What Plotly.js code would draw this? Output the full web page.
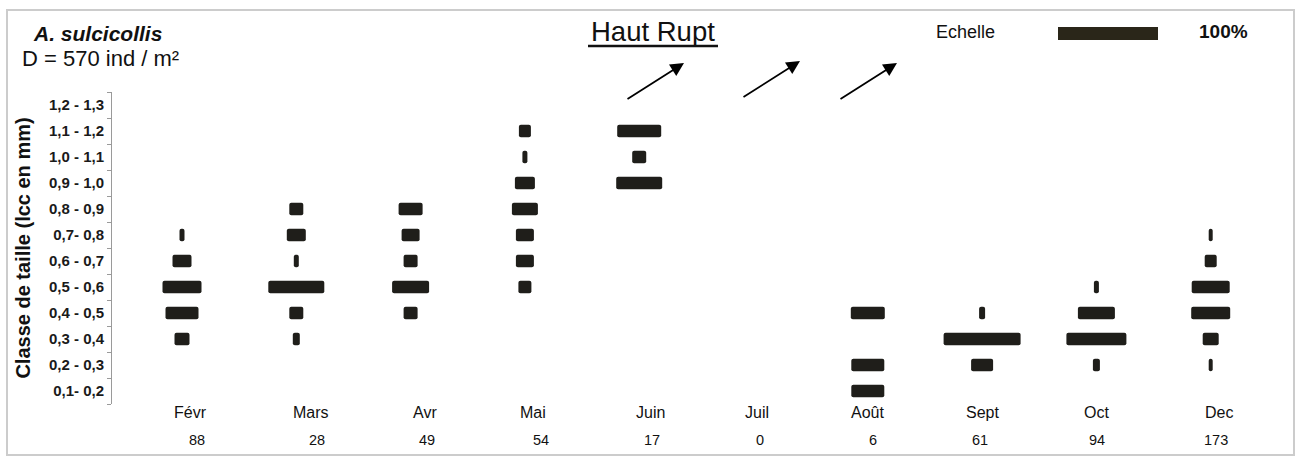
<!DOCTYPE html>
<html>
<head>
<meta charset="utf-8">
<script src="https://cdn.plot.ly/plotly-3.0.1.min.js"></script>
<style>
  html, body { margin:0; padding:0; background:#fff; }
  #graph { width:1299px; height:458px; }
</style>
</head>
<body>
<div id="graph"></div>
<script>
//***** data
var classes = ['0,1- 0,2','0,2 - 0,3','0,3 - 0,4','0,4 - 0,5','0,5 - 0,6','0,6 - 0,7',
               '0,7- 0,8','0,8 - 0,9','0,9 - 1,0','1,0 - 1,1','1,1 - 1,2','1,2 - 1,3'];
var months = ['Févr','Mars','Avr','Mai','Juin','Juil','Août','Sept','Oct','Dec'];
var counts = [88,28,49,54,17,0,6,61,94,173];

// % of the monthly sample in each size class (smallest class first)
var fevr = [0,0,15,33,39,19,5,0,0,0,0,0];
var mars = [0,0,7,14,56,5,19,14,0,0,0,0];
var avr  = [0,0,0,14,37,14,18,24,0,0,0,0];
var mai  = [0,0,0,0,13,18,18,26,20,5,12,0];
var juin = [0,0,0,0,0,0,0,0,46,14,44,0];
var juil = [0,0,0,0,0,0,0,0,0,0,0,0];
var aout = [33,33,0,34,0,0,0,0,0,0,0,0];
var sept = [0,22,77,6,0,0,0,0,0,0,0,0];
var oct  = [0,7,60,37,5,0,0,0,0,0,0,0];
var dec  = [0,4,16,39,38,12,4,0,0,0,0,0];
var series = [fevr,mars,avr,mai,juin,juil,aout,sept,oct,dec];

var scalePct = 100;   // "Echelle" bar
//***** end of data

//***** layout constants (x axis unit = 1 px = 1 %)
var W = 1299, H = 458, L = 112, T = 92, B = 54;
var plotW = W - L, plotH = H - T - B;
var colStart = 182, colStep = 114.3;
var nameShift  = [8,15,14,8,11,3,0,0,0,8];
var countShift = [15,21,16,16,13,6,5,-2,1,5];
var barColor = '#1f1e1a';
var sans = 'Liberation Sans, Arial, sans-serif';
var narrow = 'Liberation Sans Narrow, Arial Narrow, Liberation Sans, Arial, sans-serif';

function px(x){ return (x - L) / plotW; }
function py(y){ return (H - B - y) / plotH; }
function colX(i){ return colStart + i * colStep; }

var data = series.map(function(vals, i){
  var c = colX(i);
  return {
    type: 'bar',
    orientation: 'h',
    y: classes,
    x: vals.map(function(v){ return v ? v : null; }),
    base: vals.map(function(v){ return c - v / 2; }),
    width: 0.48,
    marker: {color: barColor, cornerradius: 2, line: {width: 0}},
    hoverinfo: 'skip',
    showlegend: false
  };
});

var annotations = [
  {xref:'paper', yref:'paper', x:px(31), y:py(33), xanchor:'left', yanchor:'middle',
   text:'<b><i>A. sulcicollis</i></b>', showarrow:false, font:{family:sans, size:21, color:'#111'}},
  {xref:'paper', yref:'paper', x:px(20), y:py(59), xanchor:'left', yanchor:'middle',
   text:'D = 570 ind / m²', showarrow:false, font:{family:sans, size:22, color:'#111'}},
  {xref:'paper', yref:'paper', x:px(653), y:py(31), xanchor:'center', yanchor:'middle',
   text:'Haut Rupt', showarrow:false, font:{family:sans, size:27.5, color:'#111'}},
  {xref:'paper', yref:'paper', x:px(965), y:py(32), xanchor:'center', yanchor:'middle',
   text:'Echelle', showarrow:false, font:{family:narrow, size:18, color:'#111'}},
  {xref:'paper', yref:'paper', x:px(1223), y:py(31), xanchor:'center', yanchor:'middle',
   text:'<b>100%</b>', showarrow:false, font:{family:sans, size:19, color:'#111'}}
];

// arrows: sizes of Juin / Juil / Août going off the top
[[684,63],[800,61],[897,63]].forEach(function(a){
  annotations.push({xref:'paper', yref:'paper', x:px(a[0]), y:py(a[1]), ax:-58, ay:37,
    text:'', showarrow:true, arrowhead:2, arrowsize:1.5, arrowwidth:1.8, arrowcolor:'#000'});
});

months.forEach(function(m, i){
  annotations.push({xref:'x', yref:'paper', x:colX(i) + nameShift[i], y:py(413),
    xanchor:'center', yanchor:'middle', text:m, showarrow:false,
    font:{family:narrow, size:16, color:'#111'}});
  annotations.push({xref:'x', yref:'paper', x:colX(i) + countShift[i], y:py(440),
    xanchor:'center', yanchor:'middle', text:String(counts[i]), showarrow:false,
    font:{family:narrow, size:14.5, color:'#111'}});
});

var shapes = [
  // outer frame
  {type:'rect', xref:'paper', yref:'paper', x0:px(7), x1:px(1294), y0:py(455), y1:py(10),
   line:{color:'#cccccc', width:2}, layer:'below'},
  // underline of the site name
  {type:'line', xref:'paper', yref:'paper', x0:px(588), x1:px(718), y0:py(46), y1:py(46),
   line:{color:'#111', width:2.5}},
  // scale bar = 100 %
  {type:'rect', xref:'x', yref:'paper', x0:1058, x1:1058 + scalePct, y0:py(40), y1:py(27),
   fillcolor:'#2a2619', line:{width:0}}
];

var layout = {
  width: W,
  height: H,
  margin: {l:L, r:0, t:T, b:B, pad:0},
  paper_bgcolor: '#fff',
  plot_bgcolor: '#fff',
  barmode: 'overlay',
  showlegend: false,
  xaxis: {range:[L, W], visible:false, fixedrange:true},
  yaxis: {
    type: 'category',
    categoryorder: 'array',
    categoryarray: classes,
    range: [-0.5, 11.5],
    showline: true, linecolor: '#9a9a9a', linewidth: 1,
    ticks: 'outside', tickson: 'boundaries', ticklen: 4, tickcolor: '#9a9a9a',
    ticklabelstandoff: 4,
    showgrid: false, zeroline: false,
    tickfont: {family:sans, size:15, weight:'bold', color:'#1a1a1a'},
    title: {text:'Classe de taille (lcc en mm)', standoff:12,
            font:{family:sans, size:20, weight:'bold', color:'#111'}},
    fixedrange: true
  },
  annotations: annotations,
  shapes: shapes
};

function plotGraph(){
  Plotly.newPlot('graph', data, layout, {displayModeBar:false, staticPlot:true});
}
plotGraph();
</script>
</body>
</html>
